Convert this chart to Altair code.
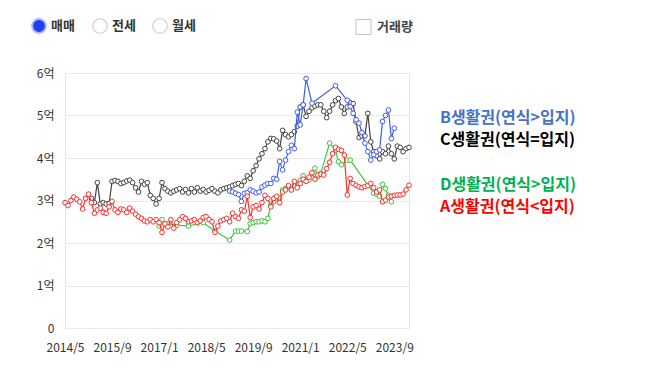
import altair as alt
import pandas as pd

# ---- data (month index 0 = 2014/5) ----
a_months = list(range(0, 118))
a_values = [2.95, 2.88, 3.00, 3.08, 3.03, 2.97, 2.80, 3.05, 3.15, 2.95,
            2.70, 2.78, 2.82, 2.72, 2.70, 2.85, 2.98, 2.78, 2.72, 2.80,
            2.78, 2.72, 2.82, 2.75, 2.68, 2.62, 2.58, 2.52, 2.50, 2.55,
            2.50, 2.55, 2.48, 2.25, 2.45, 2.38, 2.55, 2.35, 2.48, 2.55,
            2.62, 2.58, 2.50, 2.52, 2.55, 2.48, 2.52, 2.60, 2.62, 2.55,
            2.50, 2.25, 2.40, 2.52, 2.55, 2.58, 2.50, 2.70, 2.62, 2.58,
            2.78, 2.75, 3.10, 2.60, 2.85, 2.88, 2.80, 2.95, 3.12, 3.05,
            2.85, 3.05, 3.10, 2.95, 3.20, 3.25, 3.35, 3.25, 3.45, 3.30,
            3.40, 3.50, 3.45, 3.55, 3.65, 3.50, 3.60, 3.62, 3.60, 3.75,
            3.90, 4.10, 4.25, 4.20, 4.18, 4.07, 3.13, 3.52, 3.40, 3.36,
            3.32, 3.30, 3.33, 3.35, 3.40, 3.30, 3.20, 3.25, 2.97, 3.01,
            3.08, 3.10, 3.12, 3.13, 3.13, 3.15, 3.25, 3.36]

c_months = list(range(9, 118))
c_values = [3.05, 2.95, 3.42, 2.92, 2.95, 2.92, 2.93, 3.45, 3.47, 3.45,
            3.40, 3.42, 3.46, 3.48, 3.42, 3.30, 3.20, 3.45, 3.38, 3.42,
            3.12, 3.05, 2.92, 3.05, 3.42, 3.28, 3.22, 3.18, 3.22, 3.25,
            3.28, 3.20, 3.26, 3.18, 3.28, 3.20, 3.30, 3.22, 3.26, 3.20,
            3.24, 3.28, 3.22, 3.18, 3.25, 3.28, 3.30, 3.32, 3.35, 3.38,
            3.40, 3.35, 3.45, 3.58, 3.52, 3.70, 3.82, 3.98, 4.10, 4.22,
            4.38, 4.46, 4.45, 4.40, 4.22, 4.65, 4.55, 4.50, 4.55, 4.62,
            4.75, 5.20, 5.25, 4.98, 5.10, 5.18, 5.22, 5.25, 5.25, 5.10,
            4.95, 5.10, 5.25, 5.35, 5.40, 5.20, 5.05, 5.20, 5.30, 5.28,
            4.85, 4.48, 4.52, 4.52, 5.05, 4.38, 4.15, 4.05, 3.98, 4.15,
            4.10, 4.28, 4.10, 3.98, 4.28, 4.25, 4.15, 4.22, 4.25]

b_months = [56, 57, 58, 59, 60, 61, 62, 63, 64, 65, 66, 67, 68, 69, 70,
            71, 72, 73, 74, 75, 76, 77, 78, 79, 80, 81, 82, 84, 92, 96,
            97, 98, 99, 100, 101, 102, 103, 104, 105, 106, 107, 108, 109,
            110, 111, 112]
b_values = [3.22, 3.20, 3.17, 3.14, 2.98, 3.17, 3.18, 3.25, 3.22, 3.18,
            3.20, 3.32, 3.36, 3.40, 3.40, 3.52, 3.50, 3.92, 3.72, 3.95,
            4.15, 4.30, 4.22, 5.08, 4.78, 5.25, 5.87, 5.29, 5.70, 5.36,
            5.21, 5.05, 4.90, 4.82, 4.60, 4.35, 4.15, 3.95, 4.08, 4.15,
            4.19, 4.86, 5.00, 5.13, 4.46, 4.70]

d_months = [32, 33, 34, 35, 38, 42, 47, 51, 56, 58, 59, 60, 62, 63, 64,
            65, 66, 67, 68, 69, 70, 71, 72, 73, 74, 75, 76, 77, 78, 80,
            81, 83, 84, 85, 86, 87, 90, 92, 93, 94, 96, 97, 105, 106, 107,
            108, 109, 110, 111]
d_values = [2.40, 2.55, 2.45, 2.45, 2.42, 2.40, 2.48, 2.28, 2.07, 2.28,
            2.28, 2.28, 2.27, 2.46, 2.48, 2.50, 2.50, 2.52, 2.50, 2.58,
            2.89, 2.97, 3.05, 3.05, 3.25, 3.28, 3.32, 3.25, 3.36, 3.48,
            3.58, 3.48, 3.64, 3.76, 3.56, 3.64, 4.35, 4.19, 3.91, 3.84,
            3.95, 3.95, 3.17, 3.15, 3.10, 3.38, 3.28, 3.12, 2.97]

x_tick_values = [0, 16, 32, 48, 64, 80, 96, 112]
y_tick_values = [0, 1, 2, 3, 4, 5, 6]

legend_labels = ["B생활권(연식>입지)", "C생활권(연식=입지)", "D생활권(연식>입지)", "A생활권(연식<입지)"]
legend_colors = ["#4472c4", "#000000", "#00b050", "#ff0000"]
radio_labels = ["매매", "전세", "월세"]

FONT = "Noto Sans CJK KR"
W, H = 344, 255

x_enc_axis = alt.Axis(values=x_tick_values,
                      labelExpr="(2014 + floor((datum.value + 4) / 12)) + '/' + ((datum.value + 4) % 12 + 1)",
                      grid=False, domain=False, ticks=False, labelPadding=14, title=None,
                      labelOverlap=False, labelFlush=False, labelBound=False,
                      labelFont=FONT, labelFontSize=12, labelColor="#333333")
y_enc_axis = alt.Axis(values=y_tick_values,
                      labelExpr="datum.value == 0 ? '0' : datum.value + '억'",
                      grid=True, gridColor="#ebebeb", domain=False, ticks=False,
                      labelPadding=11, title=None, labelOverlap=False,
                      labelFont=FONT, labelFontSize=12, labelColor="#333333")


def series_layer(months, values, color):
    df = pd.DataFrame({"m": months, "v": values})
    return alt.Chart(df).mark_line(
        color=color, strokeWidth=1.2,
        point=alt.OverlayMarkDef(filled=False, fill="white", stroke=color, size=22, strokeWidth=1)
    ).encode(
        x=alt.X("m:Q", scale=alt.Scale(domain=[0, 117], nice=False, zero=False), axis=x_enc_axis),
        y=alt.Y("v:Q", scale=alt.Scale(domain=[0, 6], nice=False), axis=y_enc_axis),
    )


dummy = alt.Data(values=[{"k": 1}])

layers = [
    series_layer(c_months, c_values, "#444444"),
    series_layer(b_months, b_values, "#3d5cf2"),
    series_layer(d_months, d_values, "#3cc43c"),
    series_layer(a_months, a_values, "#ff2b2b"),
]

# radio buttons
layers.append(alt.Chart(dummy).mark_point(shape="circle", filled=True, size=190, fill="#1f3ff5",
                                          stroke="#aab6fb", strokeWidth=2, opacity=1)
              .encode(x=alt.value(-26), y=alt.value(-47)))
for cx in [35, 95]:
    layers.append(alt.Chart(dummy).mark_point(shape="circle", filled=False, size=210, fill="white",
                                              stroke="#cfcfcf", strokeWidth=1.2, opacity=1)
                  .encode(x=alt.value(cx), y=alt.value(-47)))
for tx, lab in zip([-14, 47, 107], radio_labels):
    layers.append(alt.Chart(dummy).mark_text(text=lab, align="left", baseline="middle", font=FONT,
                                             fontSize=13, fontWeight="bold", color="#333333")
                  .encode(x=alt.value(tx), y=alt.value(-47)))
# checkbox
layers.append(alt.Chart(dummy).mark_point(shape="square", filled=False, size=225, fill="white",
                                          stroke="#c4c4c4", strokeWidth=1, opacity=1)
              .encode(x=alt.value(298.5), y=alt.value(-46)))
layers.append(alt.Chart(dummy).mark_text(text="거래량", align="left", baseline="middle", font=FONT,
                                         fontSize=13, fontWeight="bold", color="#444444")
              .encode(x=alt.value(312), y=alt.value(-46)))

# legend texts
for ty, lab, col in zip([45, 67, 112, 134], legend_labels, legend_colors):
    layers.append(alt.Chart(dummy).mark_text(text=lab, align="left", baseline="middle", font=FONT,
                                             fontSize=16, fontWeight="bold", color=col)
                  .encode(x=alt.value(375), y=alt.value(ty)))

chart = alt.layer(*layers).properties(
    width=W, height=H,
    autosize=alt.AutoSizeParams(type="none"),
    padding={"left": 57, "top": 65, "right": 220, "bottom": 30},
    background="white",
).configure_view(stroke="#e6e6e6")

chart.save("out.html", embed_options={"renderer": "svg", "actions": False})
